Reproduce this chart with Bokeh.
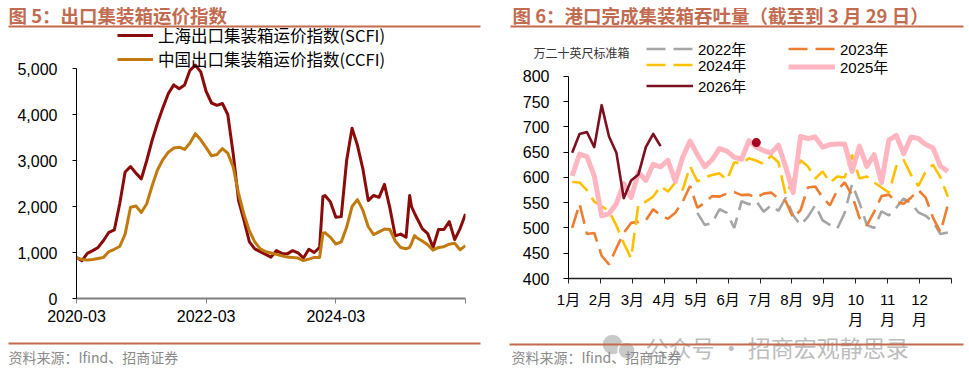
import pandas as pd
from bokeh.plotting import figure
from bokeh.models import (Range1d, FixedTicker, NumeralTickFormatter, Legend, LegendItem)
from bokeh.core.properties import value
from bokeh.layouts import row, column
from bokeh.embed import file_html
from bokeh.resources import INLINE

NAN = float("nan")

# ---------------- Figure 5: export container freight indices ----------------
dates = [
    "2020-03-01", "2020-04-01", "2020-05-01", "2020-06-01", "2020-07-01", "2020-08-01",
    "2020-09-01", "2020-10-01", "2020-11-01", "2020-12-01",
    "2021-01-01", "2021-02-01", "2021-03-01", "2021-04-01", "2021-05-01", "2021-06-01",
    "2021-07-01", "2021-08-01", "2021-09-01", "2021-10-01", "2021-11-01", "2021-12-01",
    "2022-01-01", "2022-02-01", "2022-03-01", "2022-04-01", "2022-05-01", "2022-06-01",
    "2022-07-01", "2022-08-01", "2022-09-01", "2022-10-01", "2022-11-01", "2022-12-01",
    "2023-01-01", "2023-02-01", "2023-03-01", "2023-04-01", "2023-05-01", "2023-06-01",
    "2023-07-01", "2023-08-01", "2023-09-01", "2023-10-01", "2023-11-01", "2023-12-01",
    "2023-12-20",
    "2024-01-01", "2024-02-01", "2024-03-01", "2024-04-01", "2024-05-01", "2024-06-01",
    "2024-07-01", "2024-08-01", "2024-09-01", "2024-10-01", "2024-11-01", "2024-12-01",
    "2025-01-01", "2025-02-01", "2025-03-01", "2025-04-01", "2025-04-21", "2025-05-01",
    "2025-05-19", "2025-06-01", "2025-07-01", "2025-08-01", "2025-09-01", "2025-10-01",
    "2025-11-01", "2025-12-01",
    "2026-01-01", "2026-02-01", "2026-03-01",
]
scfi = [
    890, 820, 980, 1040, 1110, 1260, 1440, 1490, 2060, 2750,
    2870, 2725, 2600, 3000, 3440, 3815, 4150, 4455, 4644, 4560, 4640, 4960,
    5073, 4927, 4500, 4250, 4200, 4240, 4000, 3150, 2130, 1700, 1230, 1080,
    1020, 960, 900, 1040, 980, 970, 1040, 990, 880, 1070, 1000, 1110,
    2220,
    2238, 2100, 1766, 1780, 3000, 3700, 3330, 2820, 2129, 2240, 2200, 2480,
    1970, 1360, 1400, 1330, 2238, 2000, 1850, 1750, 1520, 1410, 1110, 1500,
    1500, 1670,
    1280, 1520, 1839,
]
ccfi = [
    880, 850, 836, 848, 870, 894, 1020, 1070, 1130, 1400,
    1984, 2010, 1870, 2060, 2450, 2800, 3020, 3180, 3270, 3290, 3240, 3380,
    3583, 3450, 3280, 3100, 3130, 3260, 3160, 2860, 2280, 1830, 1470, 1230,
    1080, 1020, 990, 960, 930, 900, 890, 880, 825, 855, 894, 894,
    1420,
    1430, 1330, 1185, 1230, 1548, 2000, 2150, 1920, 1560, 1390, 1450, 1510,
    1500, 1250, 1110, 1080, 1112, 1200, 1366, 1320, 1250, 1170, 1050, 1110,
    1126, 1180,
    1200, 1060, 1150,
]
left_tick_dates = ["2020-03-01", "2022-03-01", "2024-03-01", "2026-03-01"]
left_tick_labels = ["2020-03", "2022-03", "2024-03", ""]
left_yticks = [0, 1000, 2000, 3000, 4000, 5000]

# ---------------- Figure 6: port container throughput (weekly) ----------------
month_labels = ["1月", "2月", "3月", "4月", "5月", "6月", "7月", "8月", "9月",
                "10\n月", "11\n月", "12\n月", ""]
y2022 = [NAN] * 17 + [
    530, 506, 510, 537, 530, 500, 553, 547, 553, 532,
    545, 534, 560, 525, 506, 522, 545, 515, 506, 499,
    530, 587, 550, 506, 500, 533, 525, 540, 558, 549,
    531, 524, 512, 488, 491]
y2023 = [500, 548, 488, 490, 445, 428, 460, 490, 510, 512,
         515, 537, 525, 518, 530, 552, 583, 540, 550, 563,
         562, 568, 571, 565, 566, 560, 568, 570, 558, 553,
         520, 535, 580, 582, 560, 545, 575, 590, 565, 520,
         505, 532, 563, 566, 551, 548, 560, 575, 560, 520,
         492, 545]
y2024 = [591, 590, 575, 552, 543, 533, 505, 470, 440, 548,
         552, 562, 583, 572, 590, 575, 622, 592, 600, 605,
         608, 595, 630, 628, 638, 633, 627, 643, 630, 565,
         595, 634, 622, 598, 612, 590, 602, 600, 645, 598,
         602, 590, 580, 570, 622, 635, 605, 583, 612, 625,
         600, 562]
y2025 = [603, 646, 641, 603, 524, 528, 548, 588, 560, 610,
         594, 626, 621, 634, 592, 640, 672, 645, 621, 635,
         657, 652, 640, 636, 673, 660, 653, 648, 664, 620,
         570, 681, 677, 680, 660, 665, 666, 666, 612, 662,
         622, 645, 590, 674, 683, 647, 680, 677, 665, 658,
         622, 612]
y2026 = [649, 686, 690, 660, 743, 681, 649, 559, 594, 606, 660, 686, 662]
dot_week = [25]
dot_value = [669]
right_yticks = [400, 450, 500, 550, 600, 650, 700, 750, 800]

SANS = "'Liberation Sans', 'Noto Sans CJK SC'"
CJK = "'Noto Sans CJK SC'"
TITLE_C = "#C16C50"
RULE_C = "#C46A4E"
SRC_C = "#8A8A8A"
STYLE = {
    "2022": dict(line_color="#A5A5A5", line_width=2.6, line_dash="19 8"),
    "2023": dict(line_color="#ED7D31", line_width=2.6, line_dash="19 8"),
    "2024": dict(line_color="#FFC000", line_width=2.6, line_dash="19 8"),
    "2025": dict(line_color="#FFB6C1", line_width=5, line_join="round"),
    "2026": dict(line_color="#7B1020", line_width=2.6, line_join="round"),
}

ORIGIN = pd.Timestamp("2020-03-01")


def month_pos(d):
    t = pd.Timestamp(d)
    return (t.year - ORIGIN.year) * 12 + (t.month - ORIGIN.month) + (t.day - 1) / t.days_in_month


def style_axes(p):
    p.xgrid.visible = False
    p.ygrid.visible = False
    p.outline_line_color = None
    p.background_fill_color = "white"
    p.border_fill_color = "white"
    for ax in (p.xaxis[0], p.yaxis[0]):
        ax.minor_tick_line_color = None
        ax.major_tick_in = 0
        ax.major_label_text_font = SANS
        ax.major_label_text_color = "black"


def deco_fig(x0, x1, top, bottom):
    # a plain drawing strip whose data units are page pixels (y grows downward)
    p = figure(width=x1 - x0, height=bottom - top, title=None,
               x_range=Range1d(x0, x1), y_range=Range1d(bottom, top),
               x_axis_location=None, y_axis_location=None, min_border=0,
               output_backend="svg", toolbar_location=None)
    p.xgrid.visible = False
    p.ygrid.visible = False
    p.outline_line_color = None
    p.background_fill_color = "white"
    p.border_fill_color = "white"
    return p


def deco_text(p, x, y, s, size, color, bold=False, font=CJK):
    p.text(x=[x], y=[y], text=[s], text_font=value(font), text_font_size=value(f"{size}px"),
           text_font_style=value("bold" if bold else "normal"), text_color=color,
           text_baseline=value("middle"), text_align=value("left"))


def deco_rule(p, x0, x1, y, color=RULE_C, width=2):
    p.segment(x0=[x0], y0=[y], x1=[x1], y1=[y], line_color=color, line_width=width)


LEG_KW = dict(orientation="vertical", glyph_width=47, glyph_height=19, label_height=19,
              label_standoff=5, spacing=0, padding=0, margin=0, border_line_color=None,
              background_fill_alpha=0, label_text_font=SANS, label_text_font_size="15px",
              label_text_color="black")

# ---------- header strip (page y 0..28) ----------
H = deco_fig(0, 969, 0, 28)
deco_text(H, 8, 14, "图 5：出口集装箱运价指数", 18.5, TITLE_C, bold=True)
deco_rule(H, 8, 480, 26)
deco_text(H, 512, 14, "图 6：港口完成集装箱吞吐量（截至到 3 月 29 日）", 18.5, TITLE_C, bold=True)
deco_rule(H, 510, 963, 26)

# ---------- left chart: page x 0..474, y 28..330; frame 76..465 x 28..298 ----------
xl = [month_pos(d) for d in dates]
p1 = figure(width=474, height=302, title=None, x_range=Range1d(0, 72),
            y_range=Range1d(0, 270 / 0.046),
            output_backend="svg", toolbar_location=None,
            min_border_left=76, min_border_right=9, min_border_top=0, min_border_bottom=32)
r_scfi = p1.line(xl, scfi, line_color="#8B0A0A", line_width=3, line_join="round")
r_ccfi = p1.line(xl, ccfi, line_color="#C07A10", line_width=3, line_join="round")
style_axes(p1)
lt = [int(round(month_pos(d))) for d in left_tick_dates]
p1.xaxis.ticker = FixedTicker(ticks=lt)
p1.xaxis.major_label_overrides = {t: s for t, s in zip(lt, left_tick_labels)}
p1.xaxis.bounds = (0, 72)
p1.xaxis.axis_line_color = "#808080"
p1.xaxis.axis_line_width = 2
p1.xaxis.major_tick_line_color = "#808080"
p1.xaxis.major_tick_out = 5
p1.xaxis.major_label_standoff = 6
p1.xaxis.major_label_text_font_size = "16px"
p1.yaxis.ticker = FixedTicker(ticks=left_yticks)
p1.yaxis.formatter = NumeralTickFormatter(format="0,0")
p1.yaxis.bounds = (0, 5000)
p1.yaxis.axis_line_color = "black"
p1.yaxis.major_tick_line_color = "black"
p1.yaxis.major_tick_out = 4
p1.yaxis.major_label_standoff = 15
p1.yaxis.major_label_text_font_size = "16px"

leg1 = Legend(items=[LegendItem(label="上海出口集装箱运价指数(SCFI)", renderers=[r_scfi]),
                     LegendItem(label="中国出口集装箱运价指数(CCFI)", renderers=[r_ccfi])],
              location=(41, 227), orientation="vertical", glyph_width=36, glyph_height=18,
              label_height=18, label_standoff=5, spacing=0, padding=0, margin=0,
              border_line_color=None, background_fill_alpha=0,
              label_text_font=CJK, label_text_font_size="16.5px", label_text_color="black")
p1.add_layout(leg1)

# ---------- right top strip: page x 474..969, y 28..60 (unit + first legend row) ----------
U = deco_fig(474, 969, 28, 60)
deco_text(U, 533, 51.5, "万二十英尺标准箱", 12, "#333333")
# legend proxies (no visible data) carrying the same styles as the 2022 / 2023 series
proxy22 = U.line([NAN, NAN], [NAN, NAN], **STYLE["2022"])
proxy23 = U.line([NAN, NAN], [NAN, NAN], **STYLE["2023"])
U.add_layout(Legend(items=[LegendItem(label="2022年", renderers=[proxy22])],
                    location=(172, 1), **LEG_KW))
U.add_layout(Legend(items=[LegendItem(label="2023年", renderers=[proxy23])],
                    location=(314, 1), **LEG_KW))

# ---------- right chart: page x 474..969, y 60..330; frame 568..951 x 60..280 ----------
xw = [(w + 0.5) * 12 / 52 for w in range(52)]
p2 = figure(width=495, height=270, title=None,
            x_range=Range1d(0, 12), y_range=Range1d(400, 400 + 220 / 0.51),
            output_backend="svg", toolbar_location=None,
            min_border_left=94, min_border_right=18, min_border_top=0, min_border_bottom=50)
r22 = p2.line(xw, y2022, **STYLE["2022"])
r23 = p2.line(xw, y2023, **STYLE["2023"])
r24 = p2.line(xw, y2024, **STYLE["2024"])
r25 = p2.line(xw, y2025, **STYLE["2025"])
r26 = p2.line(xw[:len(y2026)], y2026, **STYLE["2026"])
p2.scatter([xw[w] for w in dot_week], dot_value, size=9, fill_color="#A50021", line_color=None)
style_axes(p2)
p2.xaxis.ticker = FixedTicker(ticks=list(range(13)))
p2.xaxis.major_label_overrides = {i: s for i, s in enumerate(month_labels)}
p2.xaxis.bounds = (0, 12)
p2.xaxis.axis_line_color = "#222222"
p2.xaxis.axis_line_width = 1.5
p2.xaxis.major_tick_line_color = "#222222"
p2.xaxis.major_tick_out = 5
p2.xaxis.major_label_standoff = 7
p2.xaxis.major_label_text_font_size = "15px"
p2.yaxis.ticker = FixedTicker(ticks=right_yticks)
p2.yaxis.bounds = (400, 800)
p2.yaxis.axis_line_color = "black"
p2.yaxis.major_tick_line_color = "black"
p2.yaxis.major_tick_out = 5
p2.yaxis.major_label_standoff = 14
p2.yaxis.major_label_text_font_size = "16px"

p2.add_layout(Legend(items=[LegendItem(label="2024年", renderers=[r24]),
                            LegendItem(label="2026年", renderers=[r26])],
                     location=(78, 182), **LEG_KW))
p2.add_layout(Legend(items=[LegendItem(label="2025年", renderers=[r25])],
                     location=(220, 201), **LEG_KW))

# ---------- footer strip (page y 330..368) ----------
F = deco_fig(0, 969, 330, 368)
F.scatter(x=[612, 626], y=[344, 350], size=[21, 17], fill_color="#C9C9C9", line_color="white",
          line_width=1.5)
deco_text(F, 645, 346, "公众号 · 招商宏观静思录", 23, "#BDBDBD")
deco_rule(F, 8, 480, 343)
deco_rule(F, 509, 963, 344)
deco_text(F, 8, 356, "资料来源：Ifind、招商证券", 14, SRC_C)
deco_text(F, 511, 356, "资料来源：Ifind、招商证券", 14, SRC_C)

layout = column(H, row(column(p1), column(column(U), column(p2))), F)
open("out.html", "w").write(file_html(layout, INLINE))
